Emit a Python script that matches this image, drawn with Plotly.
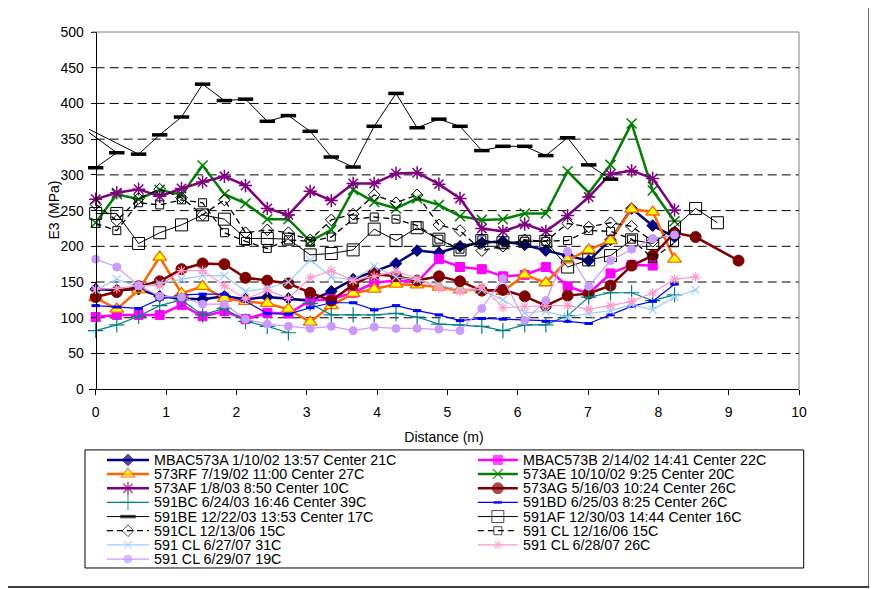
import plotly.graph_objects as go

# ---------------- data ----------------
DIST = [0.00, 0.30, 0.61, 0.91, 1.22, 1.52, 1.83, 2.13, 2.44, 2.74, 3.05, 3.35, 3.66, 3.96,
        4.27, 4.57, 4.88, 5.18, 5.49, 5.79, 6.10, 6.40, 6.71, 7.01, 7.32, 7.62, 7.92, 8.23,
        8.53, 8.84, 9.14]

MBAC573A = [140, 139, 140, 130, 127, 126, 130, 126, 129, 127, 124, 137, 154, 165, 176, 194,
            191, 200, 205, 207, 202, 194, 187, 180, 209, 253, 229, 213]
MBAC573B = [101, 104, 104, 104, 118, 102, 109, 98, 107, 106, 124, 126, 135, 149, 152, 150,
            182, 171, 168, 158, 160, 171, 144, 134, 162, 174, 173]
RF573 = [128, 112, 139, 185, 134, 144, 127, 123, 120, 112, 94, 117, 134, 140, 147, 146, 143,
         139, 139, 137, 160, 149, 181, 195, 208, 252, 248, 182]
AE573 = [233, 273, 266, 279, 272, 313, 273, 260, 238, 238, 207, 223, 279, 262, 253, 267, 258,
         242, 237, 238, 246, 246, 305, 275, 314, 372, 278, 235]
AF573 = [266, 275, 280, 270, 281, 290, 298, 285, 253, 244, 277, 264, 288, 288, 302, 303, 287,
         267, 225, 221, 231, 221, 243, 269, 301, 306, 295, 251]
AG573_DIST = [0.00, 0.30, 0.61, 0.91, 1.22, 1.52, 1.83, 2.13, 2.44, 2.74, 3.05, 3.35, 3.66,
              3.96, 4.27, 4.57, 4.88, 5.18, 5.49, 5.79, 6.10, 6.40, 6.71, 7.01, 7.32, 7.62,
              7.92, 8.23, 8.53, 9.14]
AG573 = [129, 136, 144, 151, 168, 176, 175, 156, 152, 148, 135, 124, 146, 161, 158, 152, 158,
         151, 138, 139, 130, 117, 131, 134, 145, 173, 187, 219, 213, 180]
BC591_DIST = [0.00, 0.30, 0.61, 0.91, 1.22, 1.52, 1.83, 2.13, 2.44, 2.74, None, 3.05, 3.35,
              3.66, 3.96, 4.27, 4.57, 4.88, 5.18, 5.49, 5.79, 6.10, 6.40, 6.71, 7.01, 7.32,
              7.62, 7.92, 8.23]
BC591 = [82, 90, 102, 117, 125, 104, 113, 95, 88, 79, None, 120, 104, 104, 104, 106, 101, 91,
         90, 88, 82, 90, 90, 103, 129, 135, 135, 124, 132]
BD591 = [117, 115, 113, 126, 132, 133, 133, 123, 106, 105, 114, 121, 121, 111, 117, 110, 104,
         96, 99, 98, 97, 95, 95, 92, 104, 116, 123, 147]
BE591_DIST = [0.00, 0.30, -0.30, 0.61, 0.91, 1.22, 1.52, 1.83, 2.13, 2.44, 2.74, 3.05, 3.35,
              3.66, 3.96, 4.27, 4.57, 4.88, 5.18, 5.49, 5.79, 6.10, 6.40, 6.71, 7.01, 7.32]
BE591 = [310, 331, 374, 329, 356, 381, 427, 404, 406, 375, 383, 361, 325, 311, 368, 414, 366,
         378, 368, 334, 340, 340, 327, 352, 314, 294]
AF591 = [246, 246, 204, 219, 230, 244, 238, 211, 211, 210, 188, 190, 195, 224, 208, 226, 210,
         195, 208, 205, 207, 207, 171, 181, 187, 209, 204, 227, 253, 233]
CL_121306 = [259, 236, 267, 280, 268, 244, 265, 219, 223, 219, 209, 237, 245, 272, 261, 272,
             230, 222, 194, 200, 209, 207, 232, 227, 233, 228, 207, 220]
CL_121606 = [232, 222, 261, 258, 265, 261, 219, 207, 197, 209, 207, 213, 238, 241, 238, 229,
             210, 196, 209, 203, 207, 207, 208, 222, 221, 210, 183, 205]
CL_062707 = [139, 154, 143, 148, 154, 159, 159, 137, 141, 150, 181, 157, 153, 172, 157, 153,
             146, 139, 139, 125, 107, 109, 101, 106, 110, 118, 111, 129, 139]
CL_062807 = [140, 141, 145, 145, 166, 166, 145, 126, 139, 127, 156, 166, 152, 158, 165, 155,
             141, 136, 144, 114, 116, 117, 117, 112, 117, 123, 135, 154, 157]
CL_062907 = [182, 171, 145, 130, 129, 119, 119, 98, 91, 88, 85, 88, 82, 87, 85, 85, 84, 82,
             113, 155, 96, 124, 193, 144, 180, 196, 211, 216]

NAMES = ["MBAC573A 1/10/02 13:57 Center 21C", "MBAC573B 2/14/02 14:41 Center 22C",
         "573RF 7/19/02 11:00 Center 27C", "573AE 10/10/02 9:25 Center 20C",
         "573AF 1/8/03 8:50 Center 10C", "573AG 5/16/03 10:24 Center 26C",
         "591BC 6/24/03 16:46 Center 39C", "591BD 6/25/03 8:25 Center 26C",
         "591BE 12/22/03 13:53 Center 17C", "591AF 12/30/03 14:44 Center 16C",
         "591CL 12/13/06 15C", "591 CL 12/16/06 15C", "591 CL 6/27/07 31C",
         "591 CL 6/28/07 26C", "591 CL 6/29/07 19C"]

Y_TICKS = [0, 50, 100, 150, 200, 250, 300, 350, 400, 450, 500]
X_TICKS = [0, 1, 2, 3, 4, 5, 6, 7, 8, 9, 10]

# ---------------- styles ----------------
FONT = "Liberation Sans, Arial, sans-serif"
S = [
    dict(x=DIST[:len(MBAC573A)], y=MBAC573A, lc="#000080", lw=2.5, dash="solid",
         sym="diamond", ms=9, mc="#000080", mlc="#000080", mlw=1),
    dict(x=DIST[:len(MBAC573B)], y=MBAC573B, lc="#FF00FF", lw=2.5, dash="solid",
         sym="square", ms=9, mc="#FF00FF", mlc="#FF00FF", mlw=1),
    dict(x=DIST[:len(RF573)], y=RF573, lc="#FF6600", lw=2.5, dash="solid",
         sym="triangle-up", ms=12, mc="#FFFF00", mlc="#FF6600", mlw=1.3),
    dict(x=DIST[:len(AE573)], y=AE573, lc="#008000", lw=2.5, dash="solid",
         sym="x-thin", ms=10, mc="#008000", mlc="#008000", mlw=1.5),
    dict(x=DIST[:len(AF573)], y=AF573, lc="#800080", lw=2.5, dash="solid",
         sym="asterisk", ms=11, mc="#800080", mlc="#800080", mlw=1.5),
    dict(x=AG573_DIST, y=AG573, lc="#800000", lw=2.5, dash="solid",
         sym="circle", ms=11, mc="#800000", mlc="#800000", mlw=1),
    dict(x=BC591_DIST, y=BC591, lc="#008080", lw=1.2, dash="solid",
         sym="cross-thin", ms=11, mc="#008080", mlc="#008080", mlw=1.2),
    dict(x=DIST[:len(BD591)], y=BD591, lc="#0000FF", lw=1.2, dash="solid",
         sym="line-ew", ms=6, mc="#0000FF", mlc="#0000FF", mlw=3),
    dict(x=BE591_DIST, y=BE591, lc="#000000", lw=1.0, dash="solid",
         sym="line-ew", ms=11, mc="#000000", mlc="#000000", mlw=3.5),
    dict(x=DIST[:len(AF591)], y=AF591, lc="#000000", lw=1.0, dash="solid",
         sym="square-open", ms=12, mc="#000000", mlc="#000000", mlw=1),
    dict(x=DIST[:len(CL_121306)], y=CL_121306, lc="#000000", lw=1.3, dash="6px,4px",
         sym="diamond-open", ms=9, mc="#000000", mlc="#000000", mlw=1),
    dict(x=DIST[:len(CL_121606)], y=CL_121606, lc="#000000", lw=1.3, dash="6px,4px",
         sym="square-open", ms=8, mc="#000000", mlc="#000000", mlw=1),
    dict(x=DIST[:len(CL_062707)], y=CL_062707, lc="#99CCFF", lw=1.2, dash="solid",
         sym="x-thin", ms=8, mc="#99CCFF", mlc="#99CCFF", mlw=1.2),
    dict(x=DIST[:len(CL_062807)], y=CL_062807, lc="#FF99CC", lw=1.2, dash="solid",
         sym="asterisk", ms=8, mc="#FF99CC", mlc="#FF99CC", mlw=1.2),
    dict(x=DIST[:len(CL_062907)], y=CL_062907, lc="#CC99FF", lw=1.2, dash="solid",
         sym="circle", ms=8, mc="#CC99FF", mlc="#CC99FF", mlw=1),
]

# ---------------- geometry (figure pixels; page adds an 8px body margin) ----------------
W, H = 877, 589
X0_PX, X10_PX = 87.7, 791.3          # x = 0 and x = 10
Y0_PX, Y500_PX = 381.3, 24.3         # y = 0 and y = 500
ML = 81.0                            # plot-area left edge (lines are clipped here)
MR = W - X10_PX
MT = Y500_PX
MB = 4.0
PW, PH = W - ML - MR, H - MT - MB
X_LO = -(X0_PX - ML) / ((X10_PX - X0_PX) / 10)
Y_DOM0 = (H - MB - Y0_PX) / PH
LEG_DOM1 = 0.28

fig = go.Figure()

for name, s in zip(NAMES, S):
    fig.add_trace(go.Scatter(
        x=s["x"], y=s["y"], name=name, mode="lines+markers", showlegend=False,
        line=dict(color=s["lc"], width=s["lw"], dash=s["dash"]),
        marker=dict(symbol=s["sym"], size=s["ms"], color=s["mc"],
                    line=dict(color=s["mlc"], width=s["mlw"])),
        xaxis="x", yaxis="y", cliponaxis=False))

# ---------------- hand-built legend (2 columns) ----------------
ROW0, ROWH = 452.0, 14.15
COLS = [dict(x0=99, xm=120, x1=141, xt=144), dict(x0=470, xm=490, x1=510, xt=513)]
annotations = []
for k, (name, s) in enumerate(zip(NAMES, S)):
    c = COLS[k % 2]
    yy = ROW0 + ROWH * (k // 2)
    fig.add_trace(go.Scatter(
        x=[c["x0"], c["xm"], c["x1"]], y=[yy, yy, yy], mode="lines+markers",
        showlegend=False, hoverinfo="skip",
        line=dict(color=s["lc"], width=s["lw"], dash=s["dash"]),
        marker=dict(symbol=s["sym"], size=[0, s["ms"], 0], color=s["mc"],
                    line=dict(color=s["mlc"], width=s["mlw"])),
        xaxis="x2", yaxis="y2", cliponaxis=False))
    annotations.append(dict(x=c["xt"], y=yy, xref="x2", yref="y2", text=name,
                            showarrow=False, xanchor="left", yanchor="middle",
                            font=dict(family=FONT, size=14.3, color="black")))

def px_x(p):
    return (p - ML) / PW

def px_y(p):
    return (H - MB - p) / PH

# y-axis title placed beside the tick labels
annotations.append(dict(x=px_x(46), y=Y_DOM0 + 0.5 * (1 - Y_DOM0), xref="paper", yref="paper",
                        text="E3 (MPa)", textangle=-90, showarrow=False,
                        xanchor="center", yanchor="middle",
                        font=dict(family=FONT, size=14, color="black")))

shapes = []
for v in Y_TICKS[1:-1]:
    shapes.append(dict(type="line", xref="x", yref="y", x0=0, x1=10, y0=v, y1=v,
                       line=dict(color="black", width=1, dash="9px,5px"), layer="below"))
# plot-area border (top, right)
shapes.append(dict(type="line", xref="paper", yref="paper", x0=px_x(83.7), x1=1, y0=1, y1=1,
                   line=dict(color="#808080", width=1)))
shapes.append(dict(type="line", xref="paper", yref="paper", x0=1, x1=1, y0=Y_DOM0, y1=1,
                   line=dict(color="#808080", width=1)))
# legend box
shapes.append(dict(type="rect", xref="paper", yref="paper", x0=px_x(77), x1=px_x(796),
                   y0=px_y(560), y1=px_y(442), line=dict(color="black", width=1)))
# chart area border (its left/top edges lie off the page)
shapes.append(dict(type="rect", xref="paper", yref="paper", x0=px_x(-20), x1=px_x(861.5),
                   y0=px_y(579), y1=px_y(-20), line=dict(color="black", width=1.5)))

fig.update_layout(
    width=W, height=H, margin=dict(l=ML, r=MR, t=MT, b=MB, autoexpand=False),
    paper_bgcolor="white", plot_bgcolor="white",
    font=dict(family=FONT, size=14, color="black"),
    showlegend=False,
    xaxis=dict(domain=[0, 1], range=[X_LO, 10], tickvals=X_TICKS, ticks="outside",
               ticklen=5, tickcolor="black", showline=True, linecolor="black", linewidth=1,
               showgrid=False, zeroline=False, anchor="y", ticklabelstandoff=5,
               title=dict(text="Distance (m)", standoff=13, font=dict(size=14)),
               tickfont=dict(size=14)),
    yaxis=dict(domain=[Y_DOM0, 1], range=[0, 500], tickvals=Y_TICKS, ticks="outside",
               ticklen=5, tickcolor="black", showline=True, linecolor="black", linewidth=1,
               showgrid=False, zeroline=False, anchor="free", position=-X_LO / (10 - X_LO),
               ticklabelstandoff=4, tickfont=dict(size=14)),
    xaxis2=dict(domain=[0, 1], range=[ML, W - MR], visible=False, anchor="y2"),
    yaxis2=dict(domain=[0, LEG_DOM1], range=[H - MB, H - MB - LEG_DOM1 * PH], visible=False,
                anchor="x2"),
    shapes=shapes, annotations=annotations,
)

fig.write_html("out.html")
